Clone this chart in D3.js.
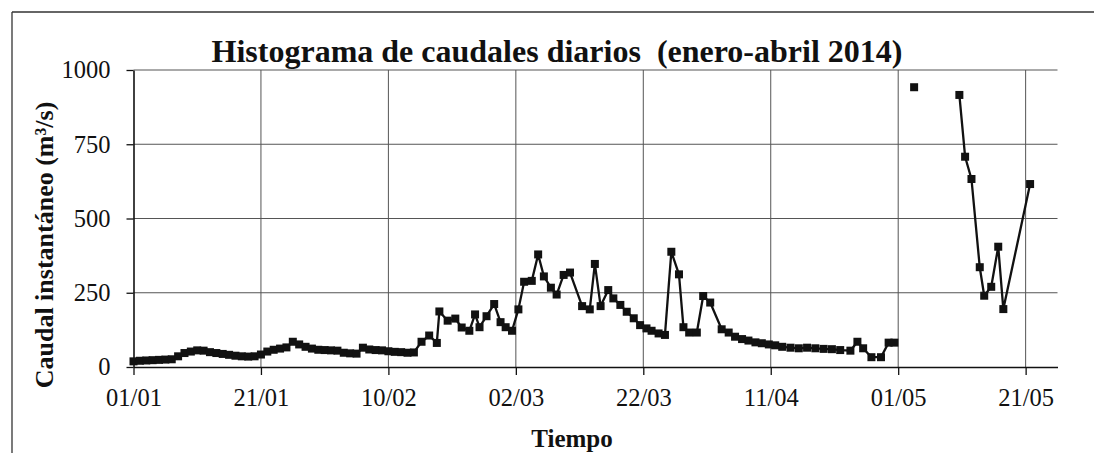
<!DOCTYPE html>
<html>
<head>
<meta charset="utf-8">
<script src="https://cdn.jsdelivr.net/npm/d3@7"></script>
<style>
body { margin:0; background:#fff; }
svg { display:block; font-family:"Liberation Serif","Times New Roman",serif; }
</style>
</head>
<body>
<svg id="chart" width="1094" height="453"></svg>
<script>
// dias desde el 01/01/2014 (lecturas instantaneas, con fraccion de dia)
let dias = [
  0,1,2,3,4,5,6,7,8,9,10,11,12,13,14,15,16,17,18,19,20,21,22,23,24,25,26,27,28,29,
  30,31,32,33,34,35,36,37,38,39,40,41,42,43,44,
  45.2,46.4,47.6,48.0,49.3,50.5,51.5,52.7,53.6,54.3,55.4,56.6,57.6,58.4,59.4,
  60.4,61.3,62.5,63.5,64.4,65.5,66.4,67.5,68.5,70.4,71.6,72.4,73.3,74.5,75.3,
  76.4,77.4,78.5,79.5,80.5,81.3,82.4,83.4,84.4,85.6,86.3,87.2,88.4,89.4,90.5,
  92.3,93.4,94.4,95.5,96.5,97.6,98.6,99.7,100.7,101.8,103.1,104.4,105.7,107.0,108.3,
  109.6,110.9,112.5,113.6,114.5,115.8,117.3,118.5,119.4,
  121,122.5,126,
  129.6,130.5,131.5,132.8,133.5,134.6,135.7,136.5,140.7
];
// caudal instantaneo (m3/s); null = sin dato
let caudal = [
  19,21,22,23,24,25,26,36,47,52,56,55,50,47,44,41,38,36,35,36,42,52,58,62,66,85,76,68,62,58,
  57,56,55,48,46,45,65,59,57,56,53,51,50,48,49,
  85,106,81,187,156,163,133,122,177,134,171,212,151,134,122,
  194,287,290,379,305,267,244,310,318,205,194,347,205,259,231,
  209,186,164,141,130,122,113,108,388,312,134,116,116,239,217,
  127,116,102,94,89,83,80,76,73,68,65,63,65,63,61,
  60,57,55,85,63,33,33,82,82,
  null,942,null,
  916,708,633,336,240,270,405,195,616
];
let ticksFecha = ['01/01','21/01','10/02','02/03','22/03','11/04','01/05','21/05'];
let ticksCaudal = [0,250,500,750,1000];

let svg = d3.select('#chart');
let inicio = new Date(2014,0,1);
let fin = new Date(2014,4,26);
let aFecha = d => new Date(inicio.getTime() + d*864e5);
let parseTick = d3.timeParse('%d/%m/%Y');
let fuente = '"Liberation Serif","Times New Roman",serif';

let datos = dias.map((d,i) => ({fecha: aFecha(d), v: caudal[i]}));

let sx = d3.scaleTime()
.domain([inicio, fin])
.range([133.5, 1057.5]);

let sy = d3.scaleLinear()
.domain([0, 1000])
.range([367, 70]);

// marco exterior
svg.append('line')
.attr('x1', 12).attr('y1', 12).attr('x2', 1094).attr('y2', 12)
.attr('stroke', '#333').attr('stroke-width', 1.3);
svg.append('line')
.attr('x1', 12).attr('y1', 12).attr('x2', 12).attr('y2', 453)
.attr('stroke', '#333').attr('stroke-width', 1.3);

// rejilla
let fechasTick = ticksFecha.map(t => parseTick(t + '/2014'));

svg.append('g')
.selectAll('line')
.data(ticksCaudal.slice(1))
.enter()
.append('line')
.attr('x1', sx.range()[0])
.attr('x2', sx.range()[1])
.attr('y1', d => sy(d))
.attr('y2', d => sy(d))
.attr('stroke', '#555')
.attr('stroke-width', 1);

svg.append('g')
.selectAll('line')
.data(fechasTick.slice(1))
.enter()
.append('line')
.attr('x1', d => sx(d))
.attr('x2', d => sx(d))
.attr('y1', sy(0))
.attr('y2', sy(1000))
.attr('stroke', '#555')
.attr('stroke-width', 1);

// ejes
let ejeY = svg.append('g')
.attr('transform', `translate(${sx.range()[0]},0)`)
.call(d3.axisLeft(sy).tickValues(ticksCaudal).tickFormat(d3.format('d'))
  .tickSize(7).tickSizeOuter(0).tickPadding(16));
ejeY.style('font-family', fuente).attr('font-size', 24.5);
ejeY.select('.domain').attr('stroke', '#111').attr('stroke-width', 1.6);
ejeY.selectAll('.tick line').attr('stroke', '#111').attr('stroke-width', 1.3);
ejeY.selectAll('.tick text').attr('fill', '#111');

let ejeX = svg.append('g')
.attr('transform', `translate(0,${sy(0)})`)
.call(d3.axisBottom(sx).tickValues(fechasTick).tickFormat(d3.timeFormat('%d/%m'))
  .tickSize(8).tickSizeOuter(0).tickPadding(14));
ejeX.style('font-family', fuente).attr('font-size', 24.5);
ejeX.select('.domain').attr('stroke', '#111').attr('stroke-width', 1.6);
ejeX.selectAll('.tick line').attr('stroke', '#111').attr('stroke-width', 1.3);
ejeX.selectAll('.tick text').attr('fill', '#111');

// serie
let linea = d3.line()
.defined(d => d.v != null)
.x(d => sx(d.fecha))
.y(d => sy(d.v));

svg.append('path')
.datum(datos)
.attr('d', linea)
.attr('fill', 'none')
.attr('stroke', '#111')
.attr('stroke-width', 2.3)
.attr('stroke-linejoin', 'round');

let lado = 8;
svg.append('g')
.selectAll('rect')
.data(datos.filter(d => d.v != null))
.enter()
.append('rect')
.attr('x', d => sx(d.fecha) - lado/2)
.attr('y', d => sy(d.v) - lado/2)
.attr('width', lado)
.attr('height', lado)
.attr('fill', '#111');

// textos
svg.append('text')
.attr('x', 557)
.attr('y', 62)
.attr('text-anchor', 'middle')
.attr('font-weight', 'bold')
.attr('font-size', 32)
.attr('fill', '#111')
.style('white-space', 'pre')
.text('Histograma de caudales diarios  (enero-abril 2014)');

svg.append('text')
.attr('x', 572)
.attr('y', 447)
.attr('text-anchor', 'middle')
.attr('font-weight', 'bold')
.attr('font-size', 25)
.attr('fill', '#111')
.text('Tiempo');

svg.append('text')
.attr('transform', 'translate(53,245) rotate(-90)')
.attr('text-anchor', 'middle')
.attr('font-weight', 'bold')
.attr('font-size', 26)
.attr('fill', '#111')
.text('Caudal instantáneo (m³/s)');
</script>
</body>
</html>
